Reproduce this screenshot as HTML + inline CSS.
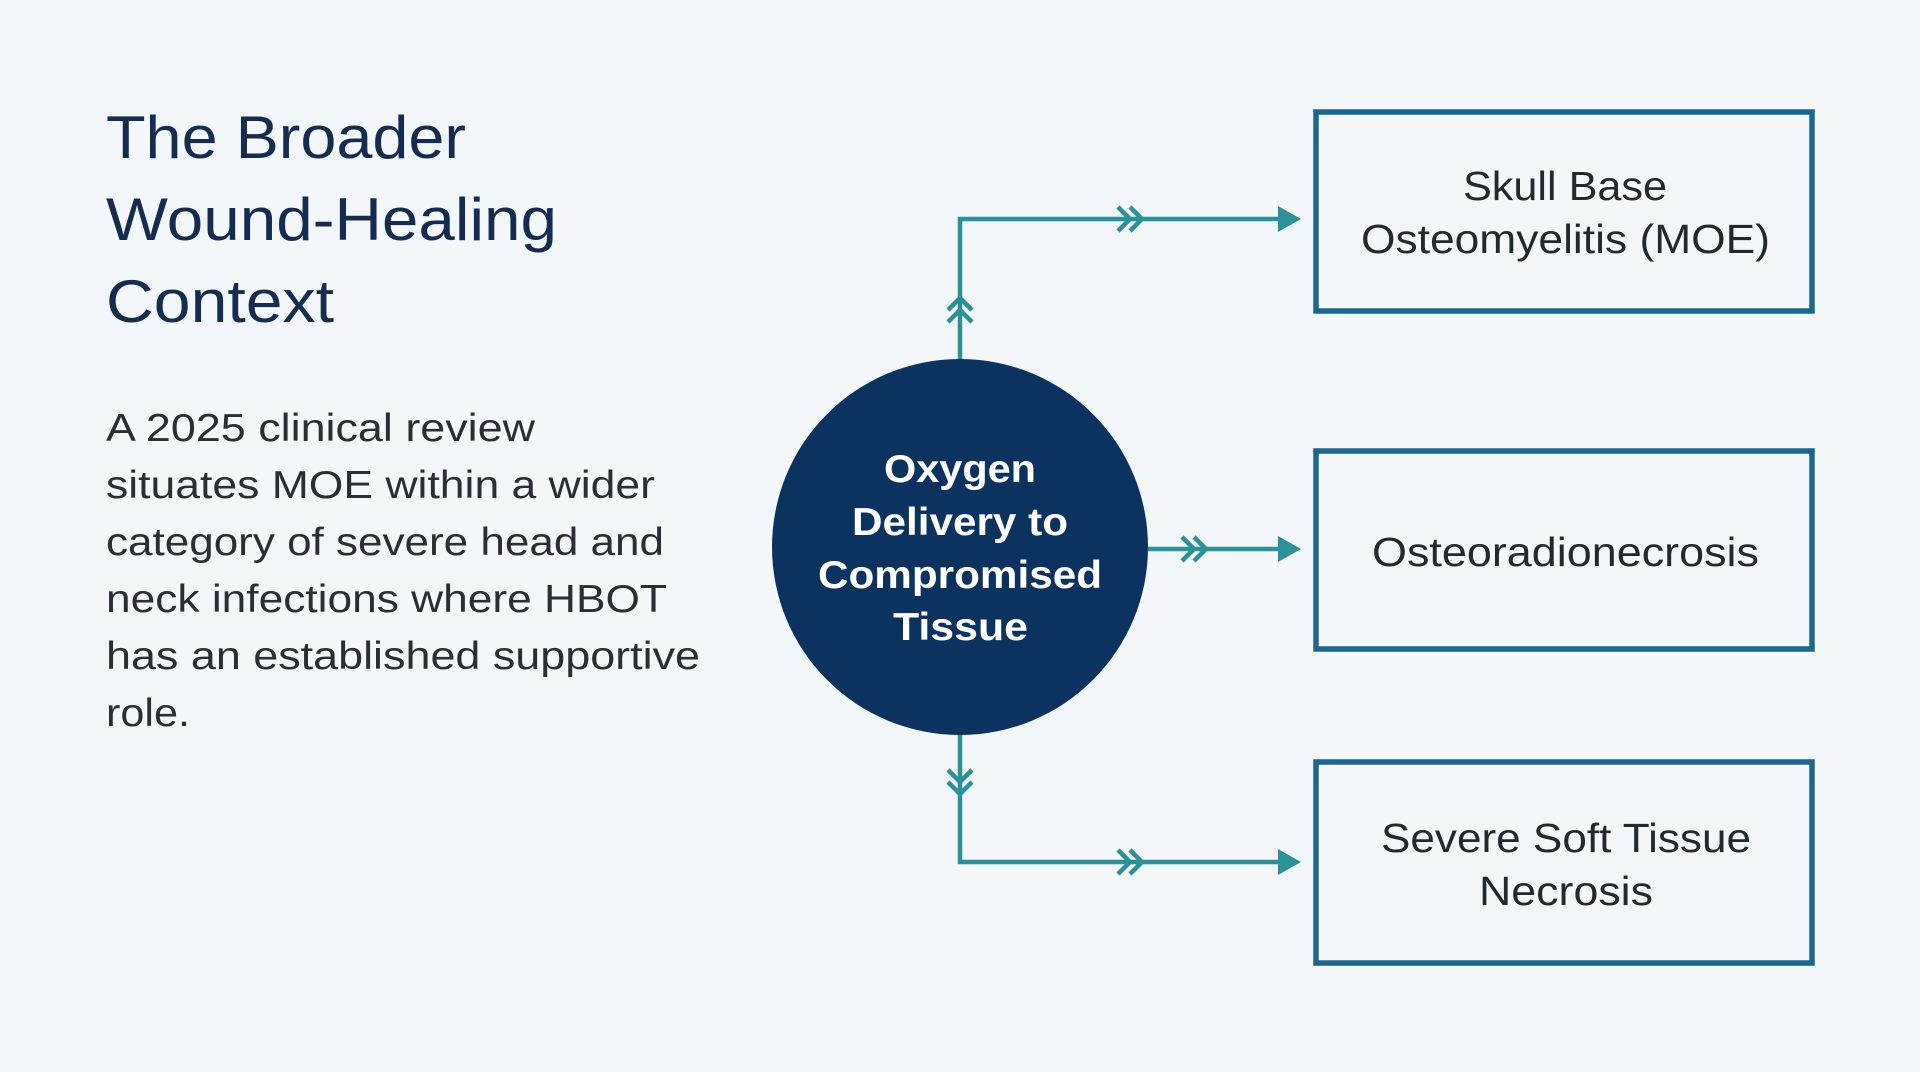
<!DOCTYPE html>
<html><head><meta charset="utf-8"><style>
html,body{margin:0;padding:0;background:#f3f7fa;}
body{width:1920px;height:1072px;position:relative;overflow:hidden;font-family:"Liberation Sans",sans-serif;}
</style></head><body>
<svg width="1920" height="1072" style="position:absolute;left:0;top:0" xmlns="http://www.w3.org/2000/svg">
<g fill="#152b4f" font-family="Liberation Sans, sans-serif" font-size="60">
<text x="106" y="158" textLength="360" lengthAdjust="spacingAndGlyphs">The Broader</text>
<text x="106" y="240" textLength="451" lengthAdjust="spacingAndGlyphs">Wound-Healing</text>
<text x="106" y="322" textLength="228" lengthAdjust="spacingAndGlyphs">Context</text>
</g>
<g fill="#2a2e35" font-family="Liberation Sans, sans-serif" font-size="39">
<text x="106" y="441" textLength="429" lengthAdjust="spacingAndGlyphs">A 2025 clinical review</text>
<text x="106" y="498" textLength="549" lengthAdjust="spacingAndGlyphs">situates MOE within a wider</text>
<text x="106" y="555" textLength="558" lengthAdjust="spacingAndGlyphs">category of severe head and</text>
<text x="106" y="612" textLength="561" lengthAdjust="spacingAndGlyphs">neck infections where HBOT</text>
<text x="106" y="669" textLength="594" lengthAdjust="spacingAndGlyphs">has an established supportive</text>
<text x="106" y="726" textLength="84" lengthAdjust="spacingAndGlyphs">role.</text>
</g>
<g stroke="#2a9297" stroke-width="4.5" fill="none">
<polyline points="960,360 960,219 1282,219"/>
<line x1="1148" y1="549" x2="1282" y2="549"/>
<polyline points="960,734 960,862 1282,862"/>
<polyline points="1118,207 1130,219 1118,231"/><polyline points="1130,207 1142,219 1130,231"/>
<polyline points="1118,850 1130,862 1118,874"/><polyline points="1130,850 1142,862 1130,874"/>
<polyline points="1182,537 1194,549 1182,561"/><polyline points="1194,537 1206,549 1194,561"/>
<polyline points="948,310 960,298 972,310"/><polyline points="948,322 960,310 972,322"/>
<polyline points="948,770 960,782 972,770"/><polyline points="948,782 960,794 972,782"/>
</g>
<g fill="#2a9297">
<polygon points="1278,206 1301,219 1278,232"/>
<polygon points="1278,536 1301,549 1278,562"/>
<polygon points="1278,849 1301,862 1278,875"/>
</g>
<circle cx="960" cy="547" r="188" fill="#0c3260"/>
<g fill="#fff" font-family="Liberation Sans, sans-serif" font-weight="bold" font-size="39">
<text x="884" y="482" textLength="152" lengthAdjust="spacingAndGlyphs">Oxygen</text>
<text x="852" y="535" textLength="216" lengthAdjust="spacingAndGlyphs">Delivery to</text>
<text x="818" y="588" textLength="284" lengthAdjust="spacingAndGlyphs">Compromised</text>
<text x="893" y="640" textLength="135" lengthAdjust="spacingAndGlyphs">Tissue</text>
</g>
<g fill="none" stroke="#1a6592" stroke-width="5.5">
<rect x="1316" y="112" width="496" height="199"/>
<rect x="1316" y="451" width="496" height="198"/>
<rect x="1316" y="762" width="496" height="201"/>
</g>
<g fill="#222a30" font-family="Liberation Sans, sans-serif" font-size="41">
<text x="1463" y="200" textLength="204" lengthAdjust="spacingAndGlyphs">Skull Base</text>
<text x="1361" y="253" textLength="409" lengthAdjust="spacingAndGlyphs">Osteomyelitis (MOE)</text>
<text x="1372" y="566" textLength="387" lengthAdjust="spacingAndGlyphs">Osteoradionecrosis</text>
<text x="1381" y="852" textLength="370" lengthAdjust="spacingAndGlyphs">Severe Soft Tissue</text>
<text x="1479" y="905" textLength="174" lengthAdjust="spacingAndGlyphs">Necrosis</text>
</g>
</svg>
</body></html>
